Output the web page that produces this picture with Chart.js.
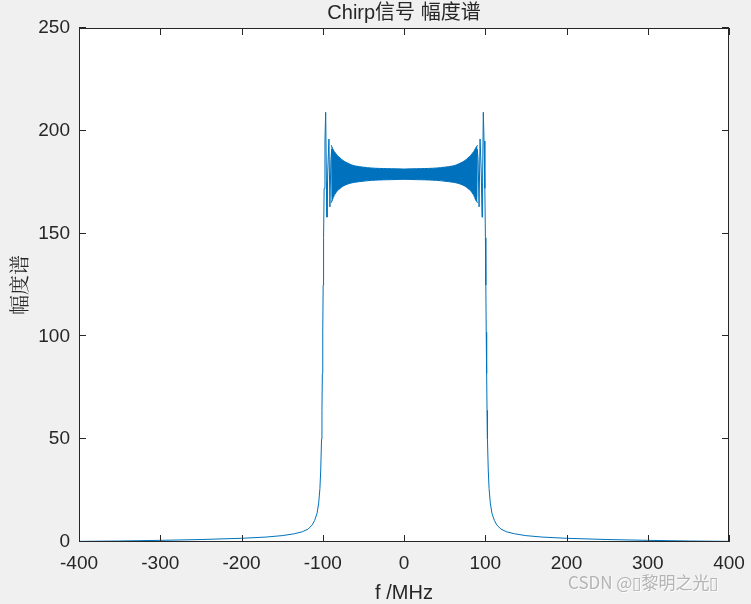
<!DOCTYPE html>
<html>
<head>
<meta charset="utf-8">
<script src="https://cdn.jsdelivr.net/npm/chart.js@4/dist/chart.umd.min.js"></script>
<style>
  html,body{margin:0;padding:0;background:#f0f0f0;}
  #wrap{width:751px;height:604px;position:relative;}
</style>
</head>
<body>
<div id="wrap"><canvas id="c" width="751" height="604"></canvas></div>
<script>
// ---- Data ----
const titleText = 'Chirp信号 幅度谱';
const xLabelText = 'f /MHz';
const yLabelText = '幅度谱';
const watermarkText = 'CSDN @\u25AF黎明之光\u25AF';

const xTicks = [-400, -300, -200, -100, 0, 100, 200, 300, 400];
const yTicks = [0, 50, 100, 150, 200, 250];

// main spectrum trace (frequency in MHz, magnitude)
const curveFreq = [-400, -350, -300, -250, -200, -170, -150, -135, -125, -118, -113, -110, -107, -105,
  -103.5, -102.5, -101.5, -101, -100.5, -100, -99.5, -99, -98.3, -97.3, -96.4, -95.5, -94.8, -93.9,
  -92.4, -91.2, -90, -89, -88.2, -87, 0,
  88.2, 89.4, 90.2, 91.2, 92.4, 93.6, 95.1, 96, 96.7, 97.6, 98.5, 99.5, 100.2, 100.7, 101.2, 101.7,
  102.2, 102.7, 103.7, 104.7, 106.2, 108.2, 111.2, 114.2, 119.2, 126, 136, 150, 170, 200, 250, 300, 350, 400];
const curveMag = [0.3, 0.5, 0.8, 1.2, 1.8, 2.4, 3.1, 4.0, 5.0, 6.3, 8.3, 10.5, 14, 19,
  26, 35, 50, 64, 82, 102, 125, 148, 172, 195, 209, 175, 158, 180,
  196, 163, 186, 191, 168, 184, 179,
  184, 168, 191, 186, 163, 196, 180, 158, 175, 209, 195, 172, 148, 125, 102, 82,
  64, 50, 35, 26, 19, 14, 10.5, 8.3, 6.3, 5.0, 4.0, 3.1, 2.4, 1.8, 1.2, 0.8, 0.5, 0.3];

// dense oscillation band: upper / lower envelope
const bandFreq  = [-89.5, -88, -86, -84, -82, -80, -77, -74, -70, -65, -60, -50, -40, -30, -20, -10, 0,
  10, 20, 30, 40, 50, 60, 65, 70, 74, 77, 80, 82, 84, 86, 88, 90.5];
const bandUpper = [193, 191.5, 190, 189, 188, 187.2, 186.2, 185.3, 184.4, 183.5, 182.9, 182.3, 181.9, 181.7, 181.6, 181.5, 181.4,
  181.5, 181.6, 181.7, 181.9, 182.3, 182.9, 183.5, 184.4, 185.3, 186.2, 187.2, 188, 189, 190, 191.5, 193];
const bandLower = [165, 166.5, 168.5, 169.8, 170.8, 171.6, 172.5, 173.3, 174, 174.6, 175, 175.5, 175.9, 176.1, 176.2, 176.3, 176.4,
  176.3, 176.2, 176.1, 175.9, 175.5, 175, 174.6, 174, 173.3, 172.5, 171.6, 170.8, 169.8, 168.5, 166.5, 165];

// ---- Build ----
const BLUE = '#0072BD';
const AX = '#262626';
const pts = (xs, ys) => xs.map((x, i) => ({x: x, y: ys[i]}));

const FONT = '"Liberation Sans", Arial, Helvetica, sans-serif';

const decor = {
  id: 'decor',
  beforeDraw(chart) {
    const {ctx, chartArea: a} = chart;
    ctx.save();
    ctx.fillStyle = '#f0f0f0';
    ctx.fillRect(0, 0, chart.width, chart.height);
    ctx.fillStyle = '#ffffff';
    ctx.fillRect(a.left, a.top, a.right - a.left, a.bottom - a.top);
    ctx.restore();
  },
  afterDraw(chart) {
    const {ctx, chartArea: a, scales} = chart;
    const xs = scales.x, ys = scales.y;
    ctx.save();
    ctx.strokeStyle = AX;
    ctx.lineWidth = 1;
    // box
    ctx.strokeRect(Math.round(a.left) + 0.5, Math.round(a.top) + 0.5,
      Math.round(a.right - a.left) - 1, Math.round(a.bottom - a.top) - 1);
    // inward ticks
    const TL = 7;
    ctx.beginPath();
    xTicks.forEach(v => {
      const px = Math.round(xs.getPixelForValue(v)) + 0.5;
      ctx.moveTo(px, a.bottom); ctx.lineTo(px, a.bottom - TL);
      ctx.moveTo(px, a.top); ctx.lineTo(px, a.top + TL);
    });
    yTicks.forEach(v => {
      const py = Math.round(ys.getPixelForValue(v)) - 0.5;
      ctx.moveTo(a.left, py); ctx.lineTo(a.left + TL, py);
      ctx.moveTo(a.right, py); ctx.lineTo(a.right - TL, py);
    });
    ctx.stroke();

    // title
    ctx.fillStyle = AX;
    ctx.textAlign = 'center';
    ctx.textBaseline = 'middle';
    ctx.font = '20px ' + FONT + ', "Noto Sans CJK SC"';
    ctx.fillText(titleText, (a.left + a.right) / 2, 13);
    // x label
    ctx.font = '20px ' + FONT;
    ctx.fillText(xLabelText, (a.left + a.right) / 2, 593);
    // y label
    ctx.save();
    ctx.translate(19, (a.top + a.bottom) / 2);
    ctx.rotate(-Math.PI / 2);
    ctx.font = '20px "Noto Serif CJK SC", "Noto Sans CJK SC", sans-serif';
    ctx.fillText(yLabelText, 0, 0);
    ctx.restore();
    // watermark
    ctx.textAlign = 'left';
    ctx.font = '17px "Noto Sans CJK SC", ' + FONT;
    ctx.fillStyle = 'rgba(255,255,255,0.8)';
    ctx.fillText(watermarkText, 569, 584);
    ctx.fillStyle = '#b4b4b4';
    ctx.fillText(watermarkText, 568, 583);
    ctx.restore();
  }
};

new Chart(document.getElementById('c'), {
  type: 'line',
  data: {
    datasets: [
      {
        label: 'spectrum',
        data: pts(curveFreq, curveMag),
        borderColor: BLUE,
        borderWidth: 1,
        borderJoinStyle: 'round',
        borderCapStyle: 'round',
        pointRadius: 0,
        fill: false,
        tension: 0
      },
      {
        label: 'band upper',
        data: pts(bandFreq, bandUpper),
        borderColor: BLUE,
        borderWidth: 1,
        pointRadius: 0,
        fill: false,
        tension: 0.3
      },
      {
        label: 'band lower',
        data: pts(bandFreq, bandLower),
        borderColor: BLUE,
        backgroundColor: BLUE,
        borderWidth: 1,
        pointRadius: 0,
        fill: '-1',
        tension: 0.3
      }
    ]
  },
  options: {
    responsive: false,
    animation: false,
    devicePixelRatio: 1,
    layout: { padding: { top: 28, right: 22, left: 0, bottom: 0 } },
    plugins: {
      legend: { display: false },
      title: { display: false },
      tooltip: { enabled: false }
    },
    scales: {
      x: {
        type: 'linear',
        min: -400, max: 400,
        grid: { display: false, drawTicks: false },
        border: { display: false },
        afterBuildTicks: s => { s.ticks = xTicks.map(v => ({value: v})); },
        afterFit: s => { s.height = 62; s.paddingLeft = 0; s.paddingRight = 0; },
        ticks: {
          color: AX,
          padding: 10,
          maxRotation: 0,
          autoSkip: false,
          font: { family: FONT, size: 19 }
        }
      },
      y: {
        type: 'linear',
        min: 0, max: 250,
        grid: { display: false, drawTicks: false },
        border: { display: false },
        afterBuildTicks: s => { s.ticks = yTicks.map(v => ({value: v})); },
        afterFit: s => { s.width = 79; s.paddingTop = 0; s.paddingBottom = 0; },
        ticks: {
          color: AX,
          padding: 9,
          autoSkip: false,
          font: { family: FONT, size: 19 }
        }
      }
    }
  },
  plugins: [decor]
});
</script>
</body>
</html>
